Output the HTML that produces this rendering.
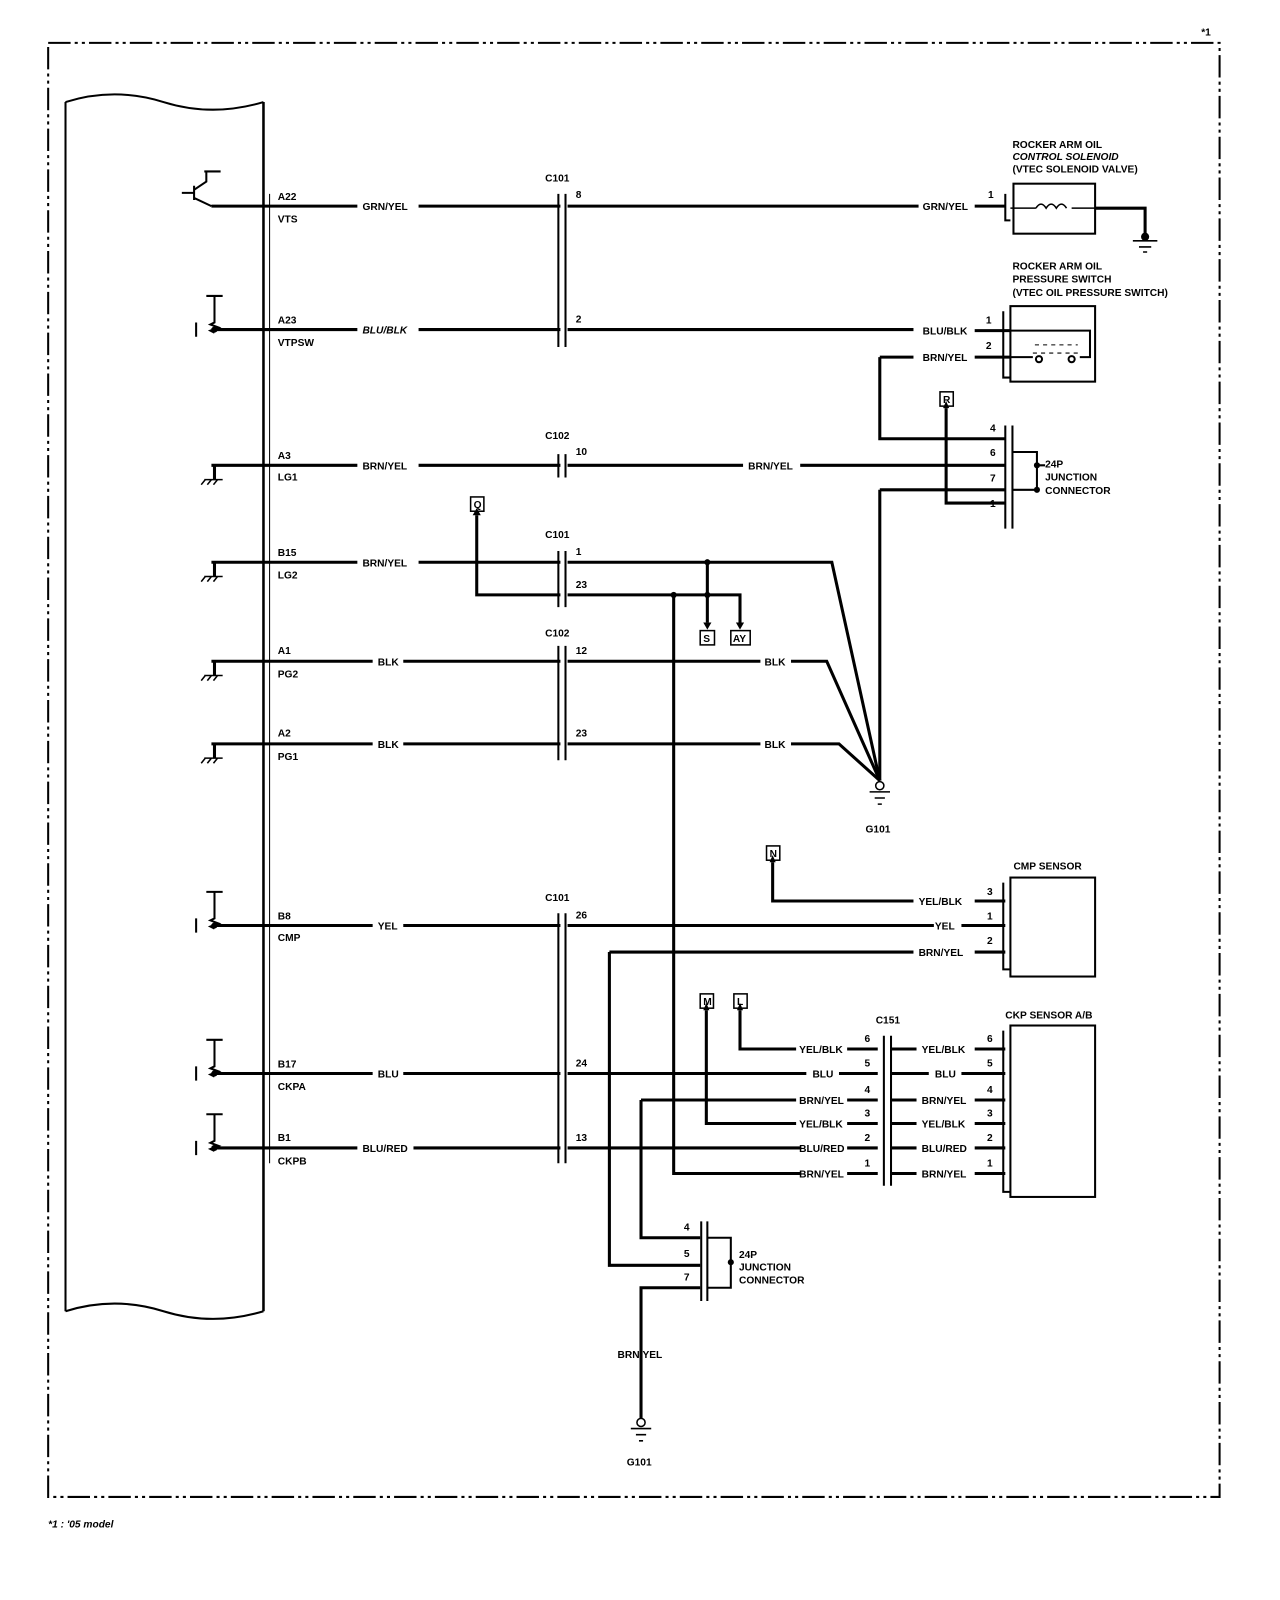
<!DOCTYPE html>
<html><head><meta charset="utf-8"><style>
html,body{margin:0;padding:0;background:#fff;}
svg{display:block;}
text{font-family:"Liberation Sans",sans-serif;font-weight:bold;font-size:10px;fill:#000;}
</style></head><body>
<svg width="1280" height="1600" viewBox="0 0 1254 1568" xmlns="http://www.w3.org/2000/svg">
<g fill="none" stroke="#000">
<!-- border -->
<rect x="47" y="42" width="1148" height="1425" stroke-width="2" stroke-dasharray="22,4,3,4,3,4"/>
<!-- ECM -->
<path d="M64 100 Q112 85 160 100 T258 100" stroke-width="2"/>
<path d="M64 1285 Q112 1270 160 1285 T258 1285" stroke-width="2"/>
<line x1="64" y1="100" x2="64" y2="1285" stroke-width="2"/>
<line x1="258" y1="100" x2="258" y2="1285" stroke-width="2.5"/>
<line x1="264" y1="190" x2="264" y2="1140" stroke-width="1"/>
</g>
<g stroke="#000" stroke-width="3" fill="none">
<!-- row wires left -->
<path d="M207 202H350M410 202H549M556 202H900"/>
<path d="M207 323H350M410 323H549M556 323H895"/>
<path d="M207 456H350M410 456H549M556 456H728M784 456H985"/>
<path d="M207 551H350M410 551H549M556 551H815L862 765"/>
<path d="M207 648H365M395 648H549M556 648H745M775 648H810L862 765"/>
<path d="M207 729H365M395 729H549M556 729H745M775 729H822L862 765"/>
<path d="M207 907H365M395 907H549M556 907H915M942 907H985"/>
<path d="M207 1052H365M395 1052H549M556 1052H790M822 1052H860"/>
<path d="M207 1125H350M405 1125H549M556 1125H785M830 1125H860"/>
<!-- right side of row1/2 -->
<path d="M955 202H985"/>
<path d="M955 324H990M955 350H990"/>
<path d="M862 350H895M862 350V430H985"/>
<path d="M862 480H985M862 480V765"/>
<path d="M927 400V493H985"/>
<path d="M467 505V583H549M556 583H725V610"/>
<path d="M693 551V610"/>
<path d="M660 583V1150H785M830 1150H860"/>
<path d="M757 845V883H895M955 883H985"/>
<path d="M955 933H985M597 933H895M597 933V1240H686"/>
<path d="M725 990V1028H780M830 1028H860"/>
<path d="M692 990V1101H780M830 1101H860"/>
<path d="M628 1078H780M830 1078H860M628 1078V1213H686"/>
<path d="M686 1262H628V1390"/>
<!-- c151 right -->
<path d="M873 1028H898M955 1028H985M873 1052H910M942 1052H985M873 1078H898M955 1078H985M873 1101H898M955 1101H985M873 1125H898M955 1125H985M873 1150H898M955 1150H985"/>
<!-- solenoid ground -->
<path d="M1073 204H1122V234"/>
<!-- left symbol stubs -->
<path d="M210 456V470M210 551V565M210 648V662M210 729V743"/>
</g>
<!-- connector bars -->
<g stroke="#000" stroke-width="2" fill="none">
<path d="M547 190V340M554 190V340"/>
<path d="M547 445V468M554 445V468"/>
<path d="M547 540V595M554 540V595"/>
<path d="M547 633V745M554 633V745"/>
<path d="M547 895V1140M554 895V1140"/>
<path d="M866 1015V1162M873 1015V1162"/>
<path d="M985 417V518M992 417V518"/>
<path d="M687 1197V1275M693 1197V1275"/>
<path d="M992 443H1016V480H992M1016 456H1024"/>
<path d="M693 1213H716V1262H693"/>
<!-- component boxes -->
<rect x="993" y="180" width="80" height="49"/>
<rect x="990" y="300" width="83" height="74"/>
<rect x="990" y="860" width="83" height="97"/>
<rect x="990" y="1005" width="83" height="168"/>
<path d="M985 190V216H990"/>
<path d="M983 305V370H990"/>
<path d="M983 865V950H990"/>
<path d="M983 1010V1168H990"/>
<path d="M990 204H1015 M1050 204H1073" stroke-width="1.5"/>
<path d="M1015 204 q5 -8 10 0 q5 -8 10 0 q5 -8 10 0" stroke-width="1.5"/>
<path d="M990 324H1068V350H1058M990 350H1012" stroke-width="2"/>
<path d="M1012 346H1058M1014 338H1056" stroke-width="1" stroke-dasharray="4,4"/>
<circle cx="1018" cy="352" r="3"/><circle cx="1050" cy="352" r="3"/>
<!-- transistor -->
<path d="M190 182V196M178 189H190M190 186L202 178V168M190 194L207 202M200 168H216" stroke-width="2"/>
<!-- pullup resistors -->
<g stroke-width="2">
<path d="M210 290V316l-4 2 8 3 -8 3 4 2 M202 290H218"/>
<path d="M210 874V900l-4 2 8 3 -8 3 4 2 M202 874H218"/>
<path d="M210 1019V1045l-4 2 8 3 -8 3 4 2 M202 1019H218"/>
<path d="M210 1092V1118l-4 2 8 3 -8 3 4 2 M202 1092H218"/>
<path d="M192 316V330M192 900V914M192 1045V1059M192 1118V1132"/>
</g>
<!-- grounds -->
<g stroke-width="1.5">
<path d="M200 470H218M201 470l-4 5M207 470l-4 5M213 470l-4 5"/>
<path d="M200 565H218M201 565l-4 5M207 565l-4 5M213 565l-4 5"/>
<path d="M200 662H218M201 662l-4 5M207 662l-4 5M213 662l-4 5"/>
<path d="M200 743H218M201 743l-4 5M207 743l-4 5M213 743l-4 5"/>
<path d="M1110 236H1134M1116 242H1128M1120 247H1124"/>
<circle cx="862" cy="770" r="4"/><path d="M852 776H872M857 782H867M860 788H864"/>
<circle cx="628" cy="1394" r="4"/><path d="M618 1400H638M623 1406H633M626 1412H630"/>
</g>
<!-- marker boxes -->
<rect x="461" y="487" width="13" height="14" stroke-width="1.5"/>
<rect x="921" y="384" width="13" height="14" stroke-width="1.5"/>
<rect x="686" y="618" width="14" height="14" stroke-width="1.5"/>
<rect x="716" y="618" width="19" height="14" stroke-width="1.5"/>
<rect x="751" y="829" width="13" height="14" stroke-width="1.5"/>
<rect x="686" y="974" width="13" height="14" stroke-width="1.5"/>
<rect x="719" y="974" width="13" height="14" stroke-width="1.5"/>
</g>
<g fill="#000">
<circle cx="210" cy="323" r="3"/><circle cx="210" cy="907" r="3"/><circle cx="210" cy="1052" r="3"/><circle cx="210" cy="1125" r="3"/>
<circle cx="693" cy="551" r="3"/><circle cx="660" cy="583" r="3"/><circle cx="693" cy="583" r="3"/>
<circle cx="1016" cy="456" r="3"/><circle cx="1016" cy="480" r="3"/><circle cx="716" cy="1237" r="3"/>
<circle cx="1122" cy="232" r="4"/>
<path d="M463 505l4 -7 4 7zM924 400l3 -7 3 7zM754 845l3 -7 3 7zM689 990l3 -7 3 7zM722 990l3 -7 3 7z"/>
<path d="M689 610l4 7 4 -7zM721 610l4 7 4 -7z"/>
</g>
<g>
<text x="1177" y="35">*1</text>
<text x="272" y="196">A22</text><text x="272" y="218">VTS</text>
<text x="272" y="317">A23</text><text x="272" y="339">VTPSW</text>
<text x="272" y="450">A3</text><text x="272" y="471">LG1</text>
<text x="272" y="545">B15</text><text x="272" y="567">LG2</text>
<text x="272" y="641">A1</text><text x="272" y="664">PG2</text>
<text x="272" y="722">A2</text><text x="272" y="745">PG1</text>
<text x="272" y="901">B8</text><text x="272" y="922">CMP</text>
<text x="272" y="1046">B17</text><text x="272" y="1068">CKPA</text>
<text x="272" y="1118">B1</text><text x="272" y="1141">CKPB</text>
<text x="355" y="206">GRN/YEL</text><text x="355" y="327" font-style="italic">BLU/BLK</text>
<text x="355" y="460">BRN/YEL</text><text x="355" y="555">BRN/YEL</text>
<text x="370" y="652">BLK</text><text x="370" y="733">BLK</text>
<text x="370" y="911">YEL</text><text x="370" y="1056">BLU</text><text x="355" y="1129">BLU/RED</text>
<text x="534" y="178">C101</text><text x="534" y="430">C102</text><text x="534" y="527">C101</text>
<text x="534" y="624">C102</text><text x="534" y="883">C101</text><text x="858" y="1003">C151</text>
<text x="564" y="194">8</text><text x="564" y="316">2</text><text x="564" y="446">10</text>
<text x="564" y="544">1</text><text x="564" y="576">23</text><text x="564" y="641">12</text>
<text x="564" y="722">23</text><text x="564" y="900">26</text><text x="564" y="1045">24</text><text x="564" y="1118">13</text>
<text x="904" y="206">GRN/YEL</text><text x="904" y="328">BLU/BLK</text><text x="904" y="354">BRN/YEL</text>
<text x="733" y="460">BRN/YEL</text><text x="749" y="652">BLK</text><text x="749" y="733">BLK</text>
<text x="968" y="194">1</text><text x="966" y="317">1</text><text x="966" y="342">2</text>
<text x="970" y="423">4</text><text x="970" y="447">6</text><text x="970" y="472">7</text><text x="970" y="497">1</text>
<text x="1024" y="458">24P</text><text x="1024" y="471">JUNCTION</text><text x="1024" y="484">CONNECTOR</text>
<text x="992" y="145">ROCKER ARM OIL</text><text x="992" y="157" font-style="italic">CONTROL SOLENOID</text><text x="992" y="169">(VTEC SOLENOID VALVE)</text>
<text x="992" y="264">ROCKER ARM OIL</text><text x="992" y="277">PRESSURE SWITCH</text><text x="992" y="290">(VTEC OIL PRESSURE SWITCH)</text>
<text x="848" y="816">G101</text>
<text x="464" y="498" font-size="9">Q</text><text x="924" y="395" font-size="9">R</text>
<text x="689" y="629" font-size="9">S</text><text x="718" y="629" font-size="9">AY</text>
<text x="754" y="840" font-size="9">N</text><text x="689" y="985" font-size="9">M</text><text x="722" y="985" font-size="9">L</text>
<text x="993" y="852">CMP SENSOR</text><text x="985" y="998">CKP SENSOR A/B</text>
<text x="900" y="887">YEL/BLK</text><text x="916" y="911">YEL</text><text x="900" y="937">BRN/YEL</text>
<text x="967" y="877">3</text><text x="967" y="901">1</text><text x="967" y="925">2</text>
<text x="783" y="1032">YEL/BLK</text><text x="796" y="1056">BLU</text><text x="783" y="1082">BRN/YEL</text>
<text x="783" y="1105">YEL/BLK</text><text x="783" y="1129">BLU/RED</text><text x="783" y="1154">BRN/YEL</text>
<text x="847" y="1021">6</text><text x="847" y="1045">5</text><text x="847" y="1071">4</text><text x="847" y="1094">3</text><text x="847" y="1118">2</text><text x="847" y="1143">1</text>
<text x="903" y="1032">YEL/BLK</text><text x="916" y="1056">BLU</text><text x="903" y="1082">BRN/YEL</text>
<text x="903" y="1105">YEL/BLK</text><text x="903" y="1129">BLU/RED</text><text x="903" y="1154">BRN/YEL</text>
<text x="967" y="1021">6</text><text x="967" y="1045">5</text><text x="967" y="1071">4</text><text x="967" y="1094">3</text><text x="967" y="1118">2</text><text x="967" y="1143">1</text>
<text x="670" y="1206">4</text><text x="670" y="1232">5</text><text x="670" y="1255">7</text>
<text x="724" y="1233">24P</text><text x="724" y="1245">JUNCTION</text><text x="724" y="1258">CONNECTOR</text>
<text x="605" y="1331">BRN/YEL</text><text x="614" y="1436">G101</text>
<text x="47" y="1497" font-style="italic" font-size="9">*1 : '05 model</text>
</g>
</svg>
</body></html>
